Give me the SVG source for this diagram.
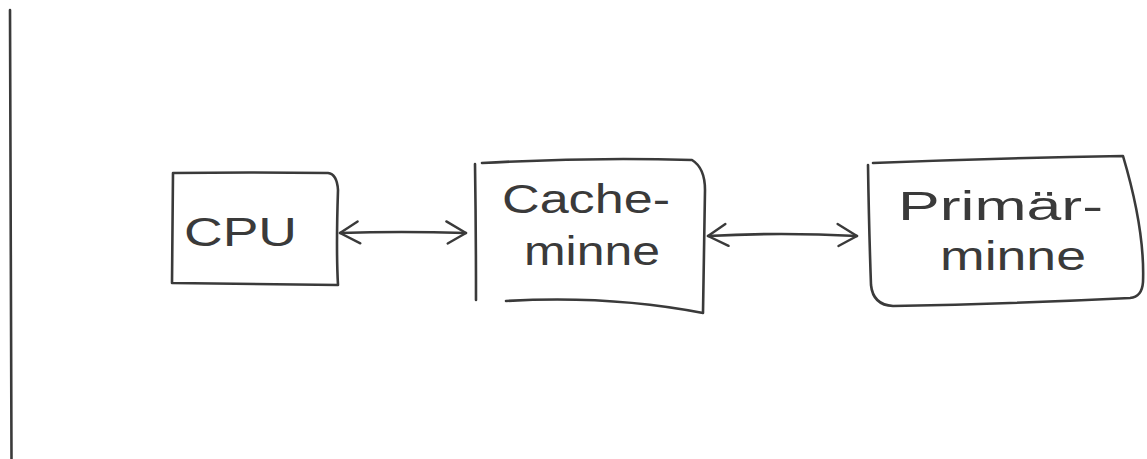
<svg xmlns="http://www.w3.org/2000/svg" width="1147" height="459" viewBox="0 0 1147 459">
  <style>
    .ink { fill: none; stroke: #3a3a3a; stroke-width: 2.6; stroke-linecap: round; stroke-linejoin: round; }
    .lbl { font-family: "Liberation Sans", "DejaVu Sans", sans-serif; font-size: 41px; fill: #3a3a3a; }
  </style>
  <defs>
    <marker id="chev" viewBox="0 0 26 26" refX="24" refY="13" markerWidth="26" markerHeight="26" markerUnits="userSpaceOnUse" orient="auto-start-reverse">
      <path d="M4 2 L24 13 L6 24" fill="none" stroke="#3a3a3a" stroke-width="2.4" stroke-linecap="round" stroke-linejoin="round"/>
    </marker>
  </defs>
  <rect width="1147" height="459" fill="#ffffff"/>

  <!-- margin rule -->
  <path class="ink" d="M10 10 L11.5 459" stroke-width="2.2"/>

  <g id="connectors">
    <path class="ink" d="M340 233 Q400 231 466 233" marker-start="url(#chev)" marker-end="url(#chev)"/>
    <path class="ink" d="M708 236 Q780 232 857 236" marker-start="url(#chev)" marker-end="url(#chev)"/>
  </g>

  <g id="cpu">
    <path class="ink" d="M173 173 L172 283 L338 285 Q336 250 338 190 Q337 174 328 173 Q250 172 173 173"/>
    <text class="lbl" x="184" y="246" textLength="113" lengthAdjust="spacingAndGlyphs">CPU</text>
  </g>

  <g id="cache">
    <path class="ink" d="M475 164 Q476 230 476 300"/>
    <path class="ink" d="M482 163 Q590 157 692 160 Q705 168 705 190 Q704 260 703 313 Q610 295 506 301"/>
    <text class="lbl" x="502" y="213" textLength="168" lengthAdjust="spacingAndGlyphs">Cache-</text>
    <text class="lbl" x="524" y="265" textLength="136" lengthAdjust="spacingAndGlyphs">minne</text>
  </g>

  <g id="primary">
    <path class="ink" d="M873 163 Q1000 158 1123 156 Q1145 230 1143 282 Q1142 297 1130 298 Q1010 304 893 306 Q873 305 871 285 Q869 230 868 165"/>
    <text class="lbl" x="898" y="220" textLength="205" lengthAdjust="spacingAndGlyphs">Primär-</text>
    <text class="lbl" x="940" y="270" textLength="146" lengthAdjust="spacingAndGlyphs">minne</text>
  </g>
</svg>
